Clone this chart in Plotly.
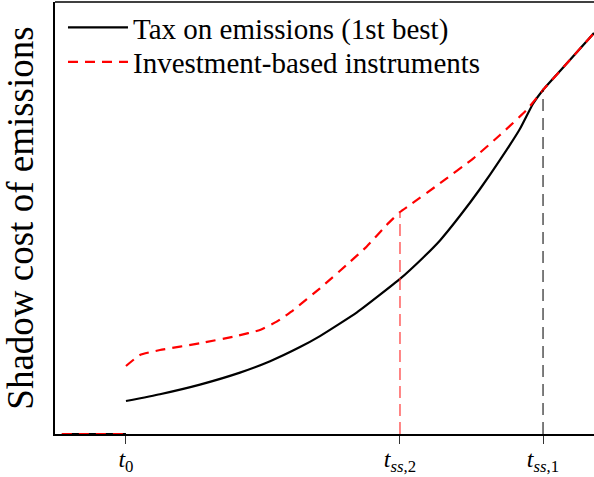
import plotly.graph_objects as go

# time axis: t0 = 0, t_ss,2 = 1, t_ss,1 = 1.522
t0 = 0.0
t_ss2 = 1.0
t_ss1 = 1.522

# period before t0 (both policies at zero)
pre_x = [-0.234, 0.0]
pre_y = [0.0, 0.0]

# Tax on emissions (1st best)
tax_x = [0.0, 0.124, 0.27, 0.416, 0.526, 0.635, 0.708, 0.843, 1.0, 1.084, 1.146, 1.219, 1.292, 1.365, 1.438, 1.485, 1.522, 1.584, 1.708]
tax_y = [0.764, 0.921, 1.144, 1.421, 1.685, 2.012, 2.266, 2.815, 3.59, 4.081, 4.481, 5.051, 5.671, 6.343, 7.065, 7.639, 7.963, 8.403, 9.282]

# Investment-based instruments
inv_x = [0.0, 0.051, 0.124, 0.27, 0.404, 0.489, 0.55, 0.611, 0.708, 0.805, 0.878, 0.951, 1.0, 1.036, 1.146, 1.268, 1.365, 1.462, 1.522, 1.584, 1.708]
inv_y = [1.574, 1.829, 1.944, 2.1, 2.269, 2.407, 2.6, 2.87, 3.373, 3.912, 4.336, 4.838, 5.139, 5.301, 5.803, 6.382, 6.921, 7.5, 7.963, 8.403, 9.282]

tick_vals = [t0, t_ss2, t_ss1]
tick_text = ["<i>t</i><sub>0</sub>", "<i>t</i><sub><i>ss</i>,2</sub>", "<i>t</i><sub><i>ss</i>,1</sub>"]

FONT = "Liberation Serif"

fig = go.Figure()

# tax series (black, solid)
fig.add_trace(go.Scatter(x=pre_x + [None] + tax_x, y=pre_y + [None] + tax_y, mode="lines",
                         line=dict(color="black", width=2.2, shape="spline", smoothing=0.4),
                         name="Tax on emissions (1st best)", connectgaps=False, legend="legend"))
# investment series (red, dashed)
fig.add_trace(go.Scatter(x=pre_x + [None] + inv_x, y=pre_y + [None] + inv_y, mode="lines",
                         line=dict(color="#ff0000", width=2.2, dash="10px,7px", shape="spline", smoothing=0.4),
                         name="Investment-based instruments", connectgaps=False, legend="legend2"))

# vertical reference lines
y_inv_at_ss2 = inv_y[inv_x.index(t_ss2)]
y_tax_at_ss1 = tax_y[tax_x.index(t_ss1)]
fig.add_trace(go.Scatter(x=[t_ss2, t_ss2], y=[0, y_inv_at_ss2], mode="lines",
                         line=dict(color="rgba(255,40,40,0.75)", width=1.5, dash="12px,6px"),
                         showlegend=False, hoverinfo="skip"))
fig.add_trace(go.Scatter(x=[t_ss1, t_ss1], y=[0, y_tax_at_ss1], mode="lines",
                         line=dict(color="rgba(0,0,0,0.85)", width=1.2, dash="12px,7px"),
                         showlegend=False, hoverinfo="skip"))

legend_common = dict(xanchor="left", yanchor="middle", bgcolor="rgba(0,0,0,0)",
                     font=dict(family=FONT, size=29, color="black"), itemwidth=60)

fig.update_layout(
    width=594, height=477,
    margin=dict(l=55, r=0, t=2, b=43),
    plot_bgcolor="white", paper_bgcolor="white",
    font=dict(family=FONT, color="black"),
    legend=dict(x=0.0148, y=(434 - 27.5) / 432, **legend_common),
    legend2=dict(x=0.0148, y=(434 - 62) / 432, **legend_common),
    xaxis=dict(range=[-0.259, 1.708], showgrid=False, zeroline=False, automargin=False,
               showline=True, linecolor="black", linewidth=1.5, mirror=False,
               tickvals=tick_vals, ticktext=tick_text, ticks="outside", ticklen=8,
               tickwidth=1.2, tickcolor="#333", tickfont=dict(family=FONT, size=24),
               ticklabelstandoff=-6),
    yaxis=dict(range=[0, 10], showgrid=False, zeroline=False, showline=True, automargin=False,
               linecolor="black", linewidth=1.5, showticklabels=False, ticks="",
               title=dict(text="Shadow cost of emissions", font=dict(family=FONT, size=37),
                          standoff=8)),
    shapes=[dict(type="line", xref="paper", yref="paper", x0=0, x1=1, y0=1, y1=1,
                 line=dict(color="black", width=1.5))],
    showlegend=True,
)

fig.write_html("out.html", post_script="document.body.style.margin='0';",
               config={"displayModeBar": False})
